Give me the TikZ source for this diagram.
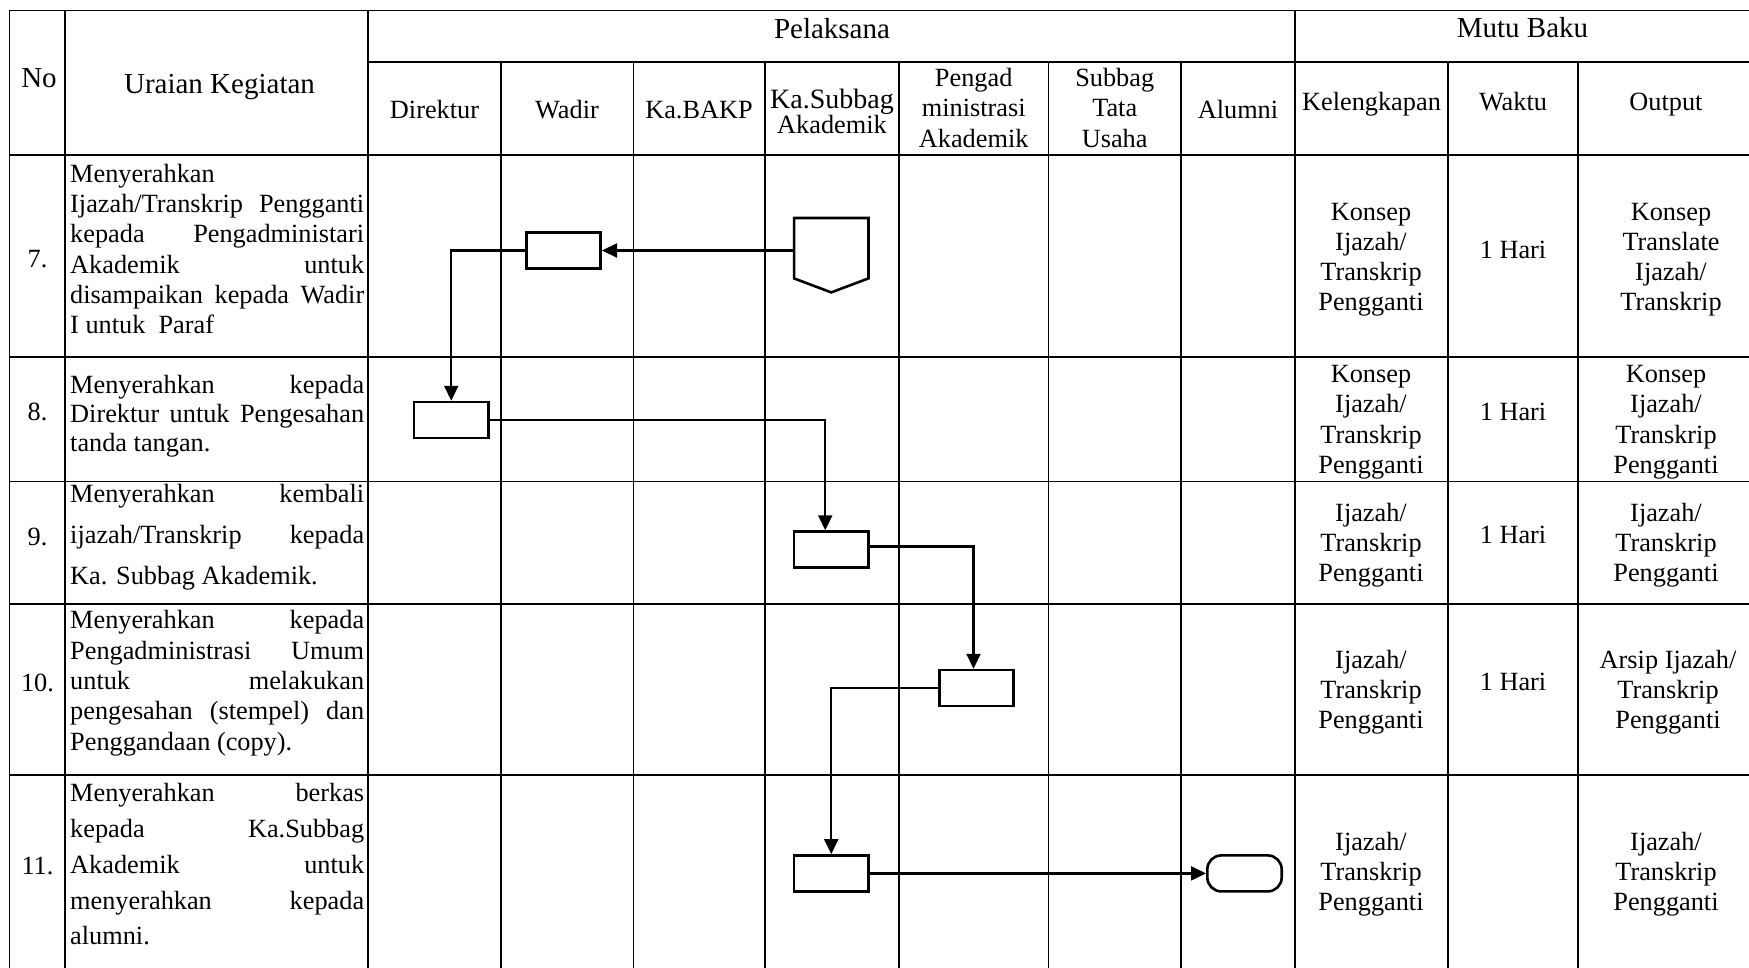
\documentclass[tikz,border=0pt]{standalone}
\usepackage{fontspec}
\setmainfont{Liberation Serif}
\usetikzlibrary{arrows.meta,calc}
\newcommand{\myst}{\rule{0pt}{24pt}}
\newcommand{\jline}[1]{\makebox[294pt][s]{#1}}
\newcommand{\lline}[1]{\makebox[294pt][l]{#1}}
\newcommand{\bigf}{\fontsize{29}{30}\selectfont}
\begin{document}
\begin{tikzpicture}[x=1pt,y=-1pt,
  gridv/.style={line width=1.4pt},
  gridh/.style={line width=1.3pt},
  box/.style={draw, line width=2.6pt, minimum width=74.4pt, minimum height=35.9pt, inner sep=0pt},
  pent/.style={minimum width=74pt, minimum height=74pt, inner sep=0pt},
  term/.style={draw, line width=2.6pt, rounded corners=14pt, minimum width=74.4pt, minimum height=36pt, inner sep=0pt},
  conn/.style={line width=2.2pt, -{Triangle[length=15pt,width=14pt]}},
  txt/.style={font={\fontsize{26.3}{#1}\selectfont\lineskiplimit=-100pt}, inner sep=0pt, align=center, anchor=north},
  txt/.default=30.3,
  desc/.style={font={\fontsize{26.3}{#1}\selectfont\lineskiplimit=-100pt}, inner sep=0pt, align=left, anchor=north west},
  desc/.default=30.3]
\useasboundingbox (0,0) rectangle (1749,968);
\fill[white] (0,0) rectangle (1749,968);

% ---- grid ----
\draw[gridh] (9.5,10.3) -- (1749,10.3);
\draw[gridh] (368,62) -- (1749,62);
\draw[gridh] (9.5,155) -- (1749,155);
\draw[gridh] (9.5,357) -- (1749,357);
\draw[gridh] (9.5,481.5) -- (1749,481.5);
\draw[gridh] (9.5,604) -- (1749,604);
\draw[gridh] (9.5,775) -- (1749,775);
\draw[gridv] (9.5,10.3) -- (9.5,968);
\draw[gridv] (65,10.3) -- (65,968);
\draw[gridv] (368,10.3) -- (368,968);
\draw[gridv] (1295,10.3) -- (1295,968);
\foreach \cx in {501,633.5,765,899,1048.5,1181,1448,1578}
  \draw[gridv] (\cx,62) -- (\cx,968);

% ---- header ----
\node[txt] (hno) at (39,63.6) {\myst\bigf No};
\node[txt] (hur) at (219.5,69.5) {\myst\bigf Uraian Kegiatan};
\node[txt] (hpel) at (832,14) {\myst\bigf Pelaksana};
\node[txt] (hmutu) at (1522.5,13.5) {\myst\bigf Mutu Baku};
\node[txt] (hdir) at (434.5,94) {\myst Direktur};
\node[txt] (hwad) at (567,94) {\myst Wadir};
\node[txt] (hbakp) at (699,94) {\myst Ka.BAKP};
\node[txt=24.5] (hsub) at (832,84.5) {\myst{\fontsize{28}{24.5}\selectfont Ka.Subbag}\\Akademik};
\node[txt=30.8] (hpeng) at (973.7,62) {\myst Pengad\\ministrasi\\Akademik};
\node[txt=30.8] (htu) at (1114.7,62) {\myst Subbag\\Tata\\Usaha};
\node[txt] (halu) at (1238,94) {\myst Alumni};
\node[txt] (hkel) at (1371.5,86) {\myst Kelengkapan};
\node[txt] (hwak) at (1513,86) {\myst Waktu};
\node[txt] (hout) at (1666,86) {\myst Output};

% ---- numbers ----
\node[txt] (n7) at (37.5,243) {\myst 7.};
\node[txt] (n8) at (37.5,396) {\myst 8.};
\node[txt] (n9) at (37.5,521) {\myst 9.};
\node[txt] (n10) at (37.5,667.7) {\myst 10.};
\node[txt] (n11) at (37.5,850) {\myst 11.};

% ---- descriptions ----
\node[desc=30.3] (t7) at (70,158) {\myst\lline{Menyerahkan}\\
  \jline{Ijazah/Transkrip Pengganti}\\
  \jline{kepada Pengadministari}\\
  \jline{Akademik untuk}\\
  \jline{disampaikan kepada Wadir}\\
  \lline{I untuk~ Paraf}};
\node[desc=29] (t8) at (70,369) {\myst\jline{Menyerahkan kepada}\\
  \jline{Direktur untuk Pengesahan}\\
  \lline{tanda tangan.}};
\node[desc=40.7] (t9) at (70,478.6) {\myst\jline{Menyerahkan kembali}\\
  \jline{ijazah/Transkrip kepada}\\
  \lline{Ka. Subbag Akademik.}};
\node[desc=30.4] (t10) at (70,604.5) {\myst\jline{Menyerahkan kepada}\\
  \jline{Pengadministrasi Umum}\\
  \jline{untuk melakukan}\\
  \jline{pengesahan (stempel) dan}\\
  \lline{Penggandaan (copy).}};
\node[desc=35.7] (t11) at (70,777.7) {\myst\jline{Menyerahkan berkas}\\
  \jline{kepada Ka.Subbag}\\
  \jline{Akademik untuk}\\
  \jline{menyerahkan kepada}\\
  \lline{alumni.}};

% ---- mutu baku cells ----
\node[txt=30] (k7) at (1371,196) {\myst Konsep\\Ijazah/\\Transkrip\\Pengganti};
\node[txt] (w7) at (1513,234.3) {\myst 1 Hari};
\node[txt=30] (o7) at (1671,196) {\myst Konsep\\Translate\\Ijazah/\\Transkrip};
\node[txt=30.5] (k8) at (1371,358) {\myst Konsep\\Ijazah/\\Transkrip\\Pengganti};
\node[txt] (w8) at (1513,396) {\myst 1 Hari};
\node[txt=30.5] (o8) at (1666,358) {\myst Konsep\\Ijazah/\\Transkrip\\Pengganti};
\node[txt=30] (k9) at (1371,497.7) {\myst Ijazah/\\Transkrip\\Pengganti};
\node[txt] (w9) at (1513,519.3) {\myst 1 Hari};
\node[txt=30] (o9) at (1666,497.7) {\myst Ijazah/\\Transkrip\\Pengganti};
\node[txt=30] (k10) at (1371,644.3) {\myst Ijazah/\\Transkrip\\Pengganti};
\node[txt] (w10) at (1513,666) {\myst 1 Hari};
\node[txt=30] (o10) at (1668,644.3) {\myst Arsip Ijazah/\\Transkrip\\Pengganti};
\node[txt=30] (k11) at (1371,826) {\myst Ijazah/\\Transkrip\\Pengganti};
\node[txt=30] (o11) at (1666,826) {\myst Ijazah/\\Transkrip\\Pengganti};

% ---- flow shapes ----
\node[pent] (p7) at (831.25,255.2) {};
\draw[line width=2.6pt] (p7.north west) -- (p7.north east) -- ([yshift=14pt]p7.south east)
  -- (p7.south) -- ([yshift=14pt]p7.south west) -- cycle;
\node[box] (b7) at (563.5,250.5) {};
\node[box] (b8) at (451.25,420) {};
\node[box] (b9) at (831.25,549.5) {};
\node[box] (b10) at (976.5,688) {};
\node[box] (b11) at (831.25,873.4) {};
\node[term] (t) at (1244.5,873.4) {};

% ---- connectors ----
\draw[conn] (p7.west |- b7.east) -- (b7.east);
\draw[conn] (b7.west) -| (b8.north);
\draw[conn] (b8.east) -| ([xshift=-6pt]b9.north);
\draw[conn] ([yshift=3pt]b9.east) -| ([xshift=-3pt]b10.north);
\draw[conn] (b10.west) -| (b11.north);
\draw[conn] (b11.east) -- (t.west);
\end{tikzpicture}
\end{document}
